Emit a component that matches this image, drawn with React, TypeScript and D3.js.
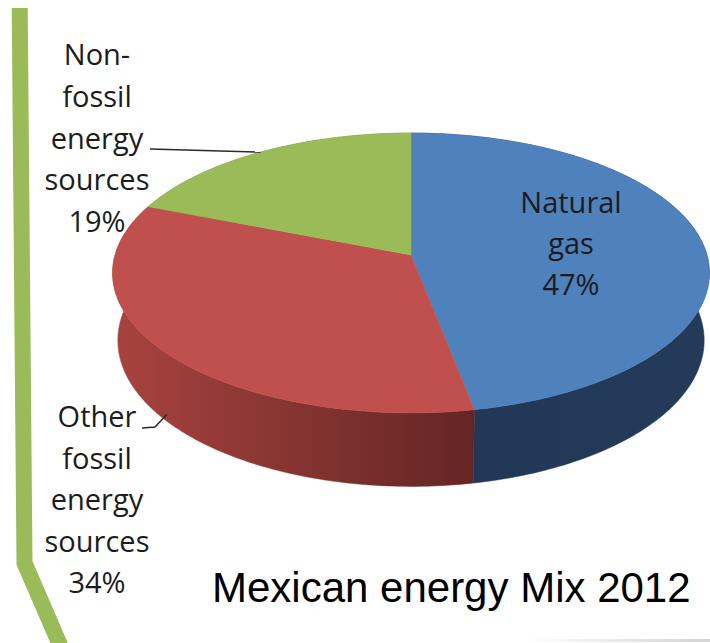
import React from "react";
import * as d3 from "d3";

// Energy mix shares (percent), drawn clockwise from 12 o'clock
const categories = ["Natural gas", "Other fossil energy sources", "Non-fossil energy sources"];
const shares = [47, 34, 19];
const labelLines = [
  ["Natural", "gas"],
  ["Other", "fossil", "energy", "sources"],
  ["Non-", "fossil", "energy", "sources"],
];
const title = "Mexican energy Mix 2012";

const topColors = ["#4f81bd", "#c0504d", "#9bbb59"];
const sideColors: [string, string][] = [
  ["#1f3450", "#233a59"],
  ["#a8433f", "#632523"],
  ["#7a9444", "#6b823b"],
];

const W = 710;
const H = 643;

// Perspective camera looking down on a unit disk
const CX = 411;
const CY = 255;
const FOCAL = 2039;
const DIST = 6.89;
const SIN = 0.465;
const COS = Math.sqrt(1 - SIN * SIN);
const THICK = 0.26;

function project(theta: number, y: number, r = 1): [number, number] {
  const X = r * Math.sin(theta);
  const Z = r * Math.cos(theta);
  const depth = DIST + Z * COS - y * SIN;
  const up = y * COS + Z * SIN;
  return [CX + (X * FOCAL) / depth, CY - (up * FOCAL) / depth];
}

function arcPoints(a: number, b: number, y: number): [number, number][] {
  const n = Math.max(2, Math.ceil((Math.abs(b - a) * 180) / Math.PI));
  return d3.range(n + 1).map((i) => project(a + ((b - a) * i) / n, y));
}

// label layout: centre x, first baseline, line height
const labelLayout = [
  { x: 571, y: 213, lh: 41 },
  { x: 97, y: 427, lh: 41.5 },
  { x: 97, y: 65, lh: 41.75 },
];

export default function App() {
  const pie = d3
    .pie<number>()
    .sort(null)
    .value((d) => d)
    .startAngle(0)
    .endAngle(2 * Math.PI);
  const arcs = pie(shares);
  const line = d3.line();

  const wallOrder = [2, 0, 1];

  const greenMid = (arcs[2].startAngle + arcs[2].endAngle) / 2;
  const redMid = (arcs[1].startAngle + arcs[1].endAngle) / 2;
  const greenAnchor = project(greenMid, 0);
  const redAnchor = project(redMid, -THICK * 0.9);

  return (
    <svg
      width={W}
      height={H}
      viewBox={`0 0 ${W} ${H}`}
      style={{ position: "absolute", left: 0, top: 0, background: "#ffffff" }}
    >
      <defs>
        {sideColors.map((c, i) => (
          <linearGradient key={i} id={`side-${i}`} gradientUnits="userSpaceOnUse" x1={112} x2={i === 0 ? 709 : 477} y1={0} y2={0}>
            <stop offset="0" stopColor={c[0]} />
            <stop offset="1" stopColor={c[1]} />
          </linearGradient>
        ))}
        <linearGradient id="floor" x1="0" x2="1" y1="0" y2="0">
          <stop offset="0" stopColor="#ffffff" />
          <stop offset="1" stopColor="#d4d4d4" />
        </linearGradient>
      </defs>

      {/* decorative frame bar */}
      <polyline
        points="19.7,8 24.5,563 63,652"
        fill="none"
        stroke="#9bbb59"
        strokeWidth={16}
        strokeLinejoin="miter"
        strokeLinecap="butt"
      />
      <rect x={520} y={639} width={190} height={3} fill="url(#floor)" />

      {/* pie walls */}
      {wallOrder.map((i) => {
        const a = arcs[i];
        const pts = [
          ...arcPoints(a.startAngle, a.endAngle, 0),
          ...arcPoints(a.endAngle, a.startAngle, -THICK),
        ];
        return (
          <path
            key={`wall-${i}`}
            d={line(pts) + "Z"}
            fill={`url(#side-${i})`}
            stroke={`url(#side-${i})`}
            strokeWidth={0.5}
          />
        );
      })}

      {/* pie top faces */}
      {arcs.map((a, i) => {
        const pts = [project(0, 0, 0), ...arcPoints(a.startAngle, a.endAngle, 0)];
        return (
          <path
            key={`top-${i}`}
            d={line(pts) + "Z"}
            fill={topColors[i]}
            stroke={topColors[i]}
            strokeWidth={0.5}
          />
        );
      })}

      {/* leader lines */}
      <path
        d={`M150,149 L${greenAnchor[0]},${greenAnchor[1]}`}
        fill="none"
        stroke="#2a2a2a"
        strokeWidth={1.5}
      />
      <path
        d={`M142,428 L155,427 L${redAnchor[0]},${redAnchor[1]}`}
        fill="none"
        stroke="#2a2a2a"
        strokeWidth={1.5}
      />

      {/* data labels */}
      {categories.map((c, i) => {
        const L = labelLayout[i];
        const lines = [...labelLines[i], `${shares[i]}%`];
        return (
          <text
            key={c}
            x={L.x}
            y={L.y}
            textAnchor="middle"
            fontFamily="'Open Sans', sans-serif"
            fontSize={29}
            fill="#1c1c1c"
          >
            {lines.map((t, j) => (
              <tspan key={j} x={L.x} y={L.y + j * L.lh}>
                {t}
              </tspan>
            ))}
          </text>
        );
      })}

      <text
        x={212}
        y={602}
        fontFamily="'Liberation Sans', Arial, sans-serif"
        fontSize={42}
        fill="#000000"
      >
        {title}
      </text>
    </svg>
  );
}
